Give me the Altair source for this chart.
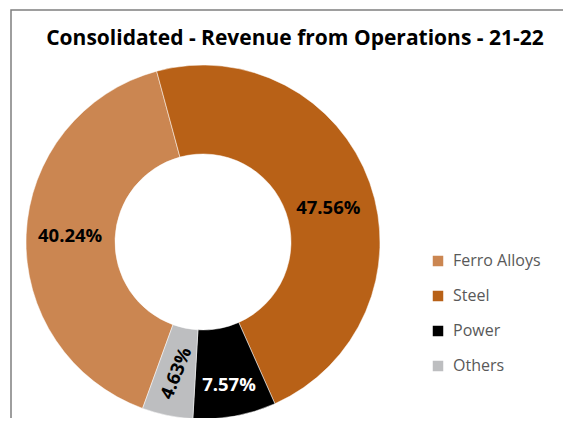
import altair as alt
import pandas as pd
import math

TITLE = "Consolidated - Revenue from Operations - 21-22"
categories = ["Ferro Alloys", "Steel", "Power", "Others"]
shares = [40.24, 47.56, 7.57, 4.63]
labels = ["40.24%", "47.56%", "7.57%", "4.63%"]
stack_order = [4, 1, 2, 3]
colors = ["#CB8651", "#B86117", "#000000", "#BDBEC0"]

df = pd.DataFrame({"cat": categories, "share": shares, "label": labels, "ord": stack_order})

FONT = "Open Sans"
START = -0.265
theta_scale = alt.Scale(domain=[0, 100], range=[START, START + 2 * math.pi])

CX, CY = 195, 234

arcs = alt.Chart(df).mark_arc(innerRadius=88, outerRadius=177, stroke="white", strokeWidth=0.5).encode(
    theta=alt.Theta("share:Q", stack=True, scale=theta_scale),
    order=alt.Order("ord:Q"),
    x=alt.value(CX), y=alt.value(CY),
    color=alt.Color("cat:N", scale=alt.Scale(domain=categories, range=colors),
                    legend=alt.Legend(title=None, orient="none", legendX=422, legendY=245,
                                      symbolType="square", symbolSize=110, symbolStrokeWidth=0,
                                      labelFont=FONT, labelFontSize=16, labelColor="#595959",
                                      rowPadding=19, labelOffset=7)),
)

mid = alt.Chart(df).transform_window(
    cum="sum(share)", sort=[alt.SortField("ord")], frame=[None, 0]
).transform_calculate(mid="datum.cum - datum.share / 2")


def lab(cats, radius, color, angle=0, dy=0):
    return mid.transform_filter(alt.FieldOneOfPredicate(field="cat", oneOf=cats)).mark_text(
        radius=radius, font=FONT, fontSize=18.5, fontWeight="bold", color=color, angle=angle, dy=dy
    ).encode(
        theta=alt.Theta("mid:Q", scale=theta_scale, stack=None),
        x=alt.value(CX), y=alt.value(CY), text="label:N",
    )


lab_ferro = lab(["Ferro Alloys"], 133, "black")
lab_steel = lab(["Steel"], 133, "black", dy=11)
lab_power = lab(["Power"], 145, "white")
lab_others = lab(["Others"], 134, "black", 292)

title = alt.Chart(pd.DataFrame({"t": [TITLE]})).mark_text(
    font=FONT, fontSize=21, fontWeight="bold", color="black", baseline="middle"
).encode(text="t:N", x=alt.value(287), y=alt.value(31))

frame = alt.Chart(pd.DataFrame({"t": [0]})).mark_rect(
    fill=None, stroke="#7f7f7f", strokeWidth=1.5
).encode(x=alt.value(3), x2=alt.value(800), y=alt.value(2), y2=alt.value(800))

chart = alt.layer(frame, arcs, lab_ferro, lab_steel, lab_power, lab_others, title).properties(
    width=555, height=410, padding=0, autosize=alt.AutoSizeParams(type="none"),
).configure_view(stroke=None)

chart.save("out.html", embed_options={"renderer": "svg", "actions": False})
